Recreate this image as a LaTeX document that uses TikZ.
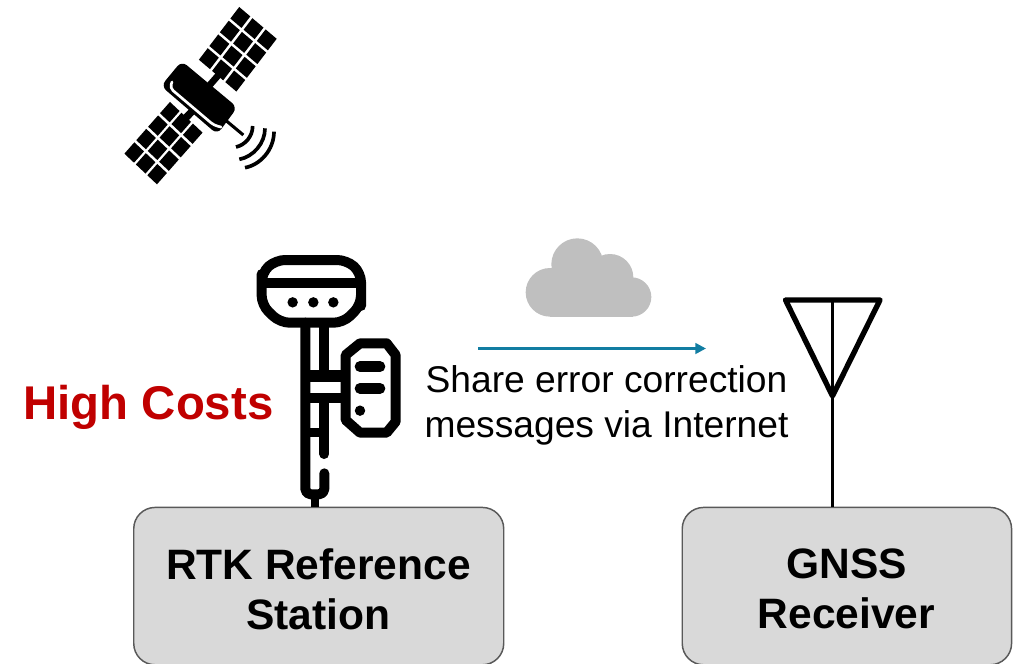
\documentclass[tikz,border=0pt]{standalone}
\usepackage{fontspec}
\setmainfont{Liberation Sans}
\usetikzlibrary{arrows.meta}
\definecolor{boxfill}{HTML}{D9D9D9}
\definecolor{boxline}{HTML}{595959}
\definecolor{costred}{HTML}{C00000}
\definecolor{arrowteal}{HTML}{117DA2}
\definecolor{cloudgrey}{HTML}{BFBFBF}
\tikzset{
  x=.75pt,y=-.75pt,
  boxstyle/.style={draw=boxline,fill=boxfill,line width=1.1pt,rounded corners=16pt,minimum width=277.5pt,minimum height=118pt,inner sep=0pt},
  boxtext/.style={font=\fontsize{31.9}{37.5}\selectfont\bfseries,align=center,inner sep=0pt},
  bodytext/.style={font=\fontsize{27.9}{33.8}\selectfont,align=center,inner sep=0pt},
  iconline/.style={draw=black,line width=7.5pt,line join=round},
  zoomthree/.style={x=.25pt,y=-.25pt},
}
\newcommand{\panelcells}{%
  \foreach \i in {0,1,2}\foreach \j in {0,1,2,3}
    \fill[black] (\i+.08,\j+.08) -- (\i+.92,\j+.08) -- (\i+.92,\j+.92) -- (\i+.08,\j+.92) -- cycle;}
\begin{document}
\begin{tikzpicture}
\useasboundingbox (0,0) rectangle (1018,664);
% boxes
\node[boxstyle,anchor=north west] (rtk) at (133,506.7) {};
\node[boxstyle,anchor=north west,minimum width=247pt] (gnss) at (681.5,506.7) {};
\node[boxtext] (rtktext) at (318.5,589) {RTK Reference\\Station};
\node[boxtext] (gnsstext) at (846.5,589) {GNSS\\Receiver};
% satellite
\begin{scope}[shift={(239,5)},x={(9.9pt,-8.4pt)},y={(-7.875pt,-10.3pt)}]
  \panelcells
\end{scope}
\begin{scope}[shift={(170,100)},x={(8.6pt,-8.1pt)},y={(-8.9pt,-10.1pt)}]
  \panelcells
\end{scope}
\begin{scope}[shift={(110,0)},zoomthree]
  \draw[black,line width=5pt] (336,213) -- (295,260);
  \draw[black,line width=5.5pt] (211,371) -- (250,330);
  \fill[black,rounded corners=5pt]
    (215,183) -- (382,322) -- (322,403) -- (153,258) -- cycle;
  \draw[white,line width=2pt,line cap=round,rounded corners=3pt] (186,246) -- (180,264) -- (312,376) -- (333,381);
  \draw[black,line width=2.3pt] (340,355) -- (400,405);
  \draw[black,line width=2.75pt] (428,378) .. controls (428,410) and (405,435) .. (378,441);
  \draw[black,line width=2.75pt] (465,385) .. controls (465,430) and (430,470) .. (388,478);
  \draw[black,line width=2.75pt] (492,395) .. controls (492,450) and (450,495) .. (405,503);
\end{scope}
% rover station
\begin{scope}[shift={(245,250)},zoomthree]
  \draw[iconline,rounded corners=7pt] (50,100) -- (50,68) -- (92,30) -- (305,30) -- (348,68) -- (348,140) -- (348,165) -- (295,218) -- (105,218) -- (50,165) -- cycle;
  \draw[iconline] (50,100) -- (348,100);
  \foreach \cx in {143,205,265} \fill[black] (\cx,157) circle (3.9pt);
  \draw[iconline] (238,218) -- (238,378);
  \draw[iconline,line cap=round] (238,445) -- (238,612);
  \draw[iconline,rounded corners=4pt,line cap=round] (181,218) -- (181,733) -- (238,733) -- (238,670);
  \draw[line width=8.5pt] (181,378) -- (295,378);
  \draw[line width=7.5pt] (181,445) -- (295,445);
  \draw[line width=6.5pt] (181,547) -- (238,547);
  \draw[line width=6.5pt] (210,733) -- (210,770);
  \draw[iconline,fill=white] (345,280) -- (425,280) -- (452,315) -- (452,515) -- (425,548) -- (345,548) -- (302,510) -- (302,315) -- cycle;
  \draw[line width=8pt,line cap=round] (345,350) -- (405,350);
  \draw[line width=8pt,line cap=round] (345,415) -- (405,415);
  \fill[black] (345,482) circle (3.9pt);
\end{scope}
% cloud
\begin{scope}[shift={(470,230)},zoomthree]
  \fill[cloudgrey] (240,187) circle (18.25pt) (322,103) circle (19.5pt) (420,142) circle (17.5pt) (485,201) circle (14.75pt);
  \fill[cloudgrey] (240,140) rectangle (490,260);
\end{scope}
% arrow
\coordinate (arrowstart) at (478,348.5);
\coordinate (arrowend) at (706,348.5);
\draw[arrowteal,line width=1.9pt,-{Triangle[length=8pt,width=8pt]}] (arrowstart) -- (arrowend);
% antenna
\coordinate (apex) at (832.5,396);
\coordinate (antl) at (785.5,300);
\coordinate (antr) at (880,300);
\coordinate (anttop) at (832.5,300);
\draw[black,line width=4pt,line join=round,line cap=round] (antl) -- (antr) -- (apex) -- cycle;
\draw[black,line width=2.2pt] (anttop) -- (gnss.north -| anttop);
% texts
\node[font=\fontsize{35.5}{40}\selectfont\bfseries,text=costred,inner sep=0pt] (cost) at (148.5,407) {High Costs};
\node[bodytext] (msg) at (606.5,405) {Share error correction\\messages via Internet};
\end{tikzpicture}
\end{document}
